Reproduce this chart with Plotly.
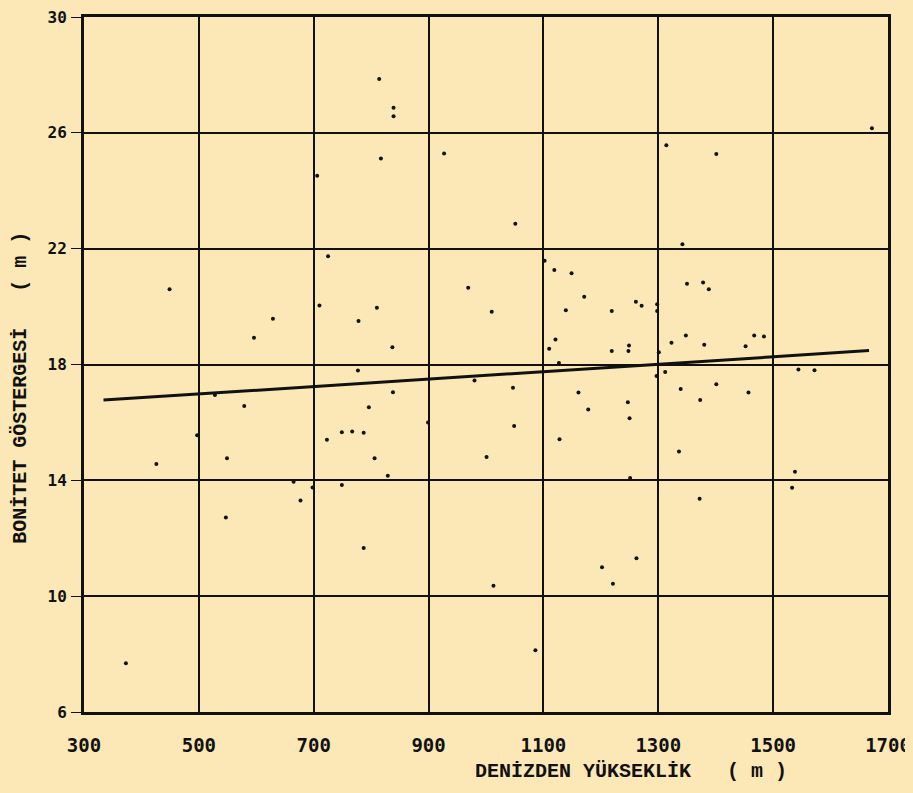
import plotly.graph_objects as go

# Elevation (m) vs. site index (m)
elevation = [814, 839, 839, 817, 706, 725, 449, 710, 810, 629, 778, 596, 837,
             927, 1314, 1051, 1102, 1119, 1149, 969, 1010, 1171, 1139, 1219, 1261,
             1271, 1298, 1298, 1121, 1110, 1219, 1249, 1248, 1301, 1127, 1672, 1401,
             1342, 1350, 1378, 1388, 1348, 1323, 1380, 1467, 1484, 1452, 777, 528,
             838, 579, 796, 899, 497, 749, 767, 787, 723, 426, 549, 806, 829, 665,
             698, 749, 677, 547, 787, 373, 980, 1047, 1161, 1247, 1178, 1250, 1049,
             1128, 1001, 1251, 1297, 1312, 1262, 1202, 1221, 1013, 1086, 1544, 1572,
             1339, 1401, 1457, 1373, 1336, 1538, 1533, 1372]
site_index = [27.86, 26.87, 26.57, 25.11, 24.52, 21.74, 20.60, 20.04, 19.96, 19.58,
              19.50, 18.92, 18.60, 25.29, 25.57, 22.86, 21.58, 21.26, 21.15, 20.65,
              19.82, 20.34, 19.87, 19.85, 20.17, 20.03, 20.08, 19.85, 18.86, 18.54,
              18.47, 18.66, 18.47, 18.42, 18.05, 26.16, 25.27, 22.15, 20.79, 20.83,
              20.60, 19.00, 18.75, 18.68, 19.00, 18.97, 18.63, 17.79, 16.95, 17.04,
              16.57, 16.52, 16.00, 15.56, 15.66, 15.69, 15.64, 15.40, 14.56, 14.76,
              14.76, 14.16, 13.95, 13.75, 13.84, 13.30, 12.72, 11.66, 7.68, 17.45,
              17.20, 17.03, 16.70, 16.45, 16.14, 15.88, 15.42, 14.81, 14.08, 17.60,
              17.74, 11.31, 11.00, 10.43, 10.36, 8.13, 17.83, 17.80, 17.15, 17.32,
              17.03, 16.77, 15.00, 14.30, 13.74, 13.36]

# Regression line end points
trend_x = [334, 1667]
trend_y = [16.77, 18.48]

x_ticks = [300, 500, 700, 900, 1100, 1300, 1500, 1700]
y_ticks = [6, 10, 14, 18, 22, 26, 30]

x_title = "DENİZDEN YÜKSEKLİK   ( m )"
y_title = "BONİTET GÖSTERGESİ   ( m )"

paper = "#fbe8b6"
ink = "#111111"

fig = go.Figure()
fig.add_trace(go.Scatter(x=elevation, y=site_index, mode="markers",
                         marker=dict(color=ink, size=4), showlegend=False,
                         cliponaxis=False))
fig.add_trace(go.Scatter(x=trend_x, y=trend_y, mode="lines",
                         line=dict(color=ink, width=3), showlegend=False))

xtickfont = dict(family="DejaVu Sans Mono, Liberation Mono, monospace",
                 size=19, color=ink, weight="bold")
ytickfont = dict(family="DejaVu Sans Mono, Liberation Mono, monospace",
                 size=16, color=ink, weight="bold")
titlefont = dict(family="Liberation Mono, DejaVu Sans Mono, monospace",
                 size=20, color=ink, weight="bold")

fig.update_xaxes(range=[300, 1700], tickvals=x_ticks,
                 ticktext=[str(v) for v in x_ticks],
                 showgrid=True, gridcolor=ink, gridwidth=2,
                 showline=True, linecolor=ink, linewidth=3, mirror=True,
                 ticks="", tickfont=xtickfont, ticklabelstandoff=14,
                 ticklabeloverflow="allow", automargin=False, zeroline=False)
fig.update_yaxes(range=[6, 30], tickvals=y_ticks,
                 ticktext=[str(v) for v in y_ticks],
                 showgrid=True, gridcolor=ink, gridwidth=2,
                 showline=True, linecolor=ink, linewidth=3, mirror=True,
                 ticks="outside", ticklen=10, tickcolor=ink, tickwidth=1,
                 tickfont=ytickfont, ticklabelstandoff=1,
                 ticklabeloverflow="allow", automargin=False, zeroline=False)

fig.add_annotation(text=x_title, xref="paper", yref="paper", x=0.68, y=-0.086,
                   xanchor="center", yanchor="middle", showarrow=False,
                   font=titlefont)
fig.add_annotation(text=y_title, xref="paper", yref="paper", x=-0.080, y=0.466,
                   xanchor="center", yanchor="middle", textangle=-90,
                   showarrow=False, font=titlefont)

# the page body keeps its 8px margin; sizes chosen so the plot area lands as in the scan
fig.update_layout(width=897, height=777,
                  margin=dict(l=76, r=17, t=9, b=73, autoexpand=False),
                  paper_bgcolor=paper, plot_bgcolor=paper)

fig.write_html("out.html", config={"displayModeBar": False},
               post_script="document.body.style.background='" + paper + "';")
